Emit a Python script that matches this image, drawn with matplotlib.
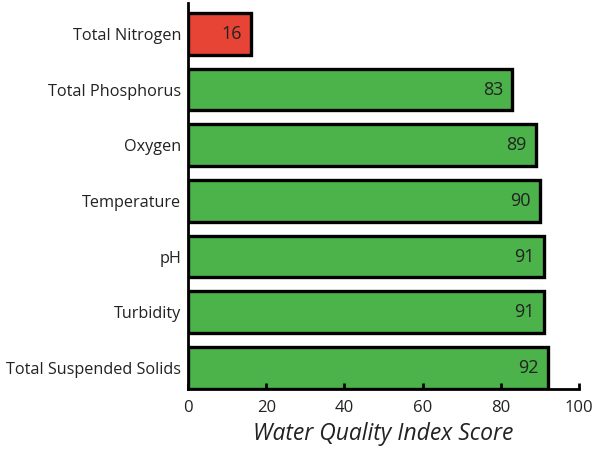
import matplotlib.pyplot as plt

categories = ["Total Suspended Solids", "Turbidity", "pH", "Temperature",
              "Oxygen", "Total Phosphorus", "Total Nitrogen"]
scores = [92, 91, 91, 90, 89, 83, 16]
bar_colors = ["#4cb24a"] * 6 + ["#e84435"]

plt.rcParams['font.family'] = ['Open Sans', 'DejaVu Sans']

fig = plt.figure(figsize=(5.95, 4.51), dpi=100)
ax = fig.add_axes([0.316, 0.1375, 0.657, 0.855])

y = range(len(categories))
ax.barh(y, scores, height=0.75, color=bar_colors, edgecolor="black", linewidth=2.4)

for yi, s in zip(y, scores):
    ax.text(s - 2.3, yi, str(s), ha="right", va="center", fontsize=13, color="#222222")

ax.set_yticks(list(y))
ax.set_yticklabels(categories, fontsize=11.7, color="#222222")
ax.set_xlim(0, 100)
ax.set_ylim(-0.38, 6.55)
ax.set_xticks(range(0, 101, 20))
ax.tick_params(axis="x", direction="in", length=4, width=2, labelsize=12, labelcolor="#222222", pad=8)
ax.tick_params(axis="y", length=0, pad=5)

for side in ["top", "right"]:
    ax.spines[side].set_visible(False)
ax.spines["left"].set_linewidth(2)
ax.spines["bottom"].set_linewidth(2)

ax.set_xlabel("Water Quality Index Score", fontsize=16.5, style="italic", color="#222222", labelpad=4)

fig.savefig("out.png", dpi=100)
